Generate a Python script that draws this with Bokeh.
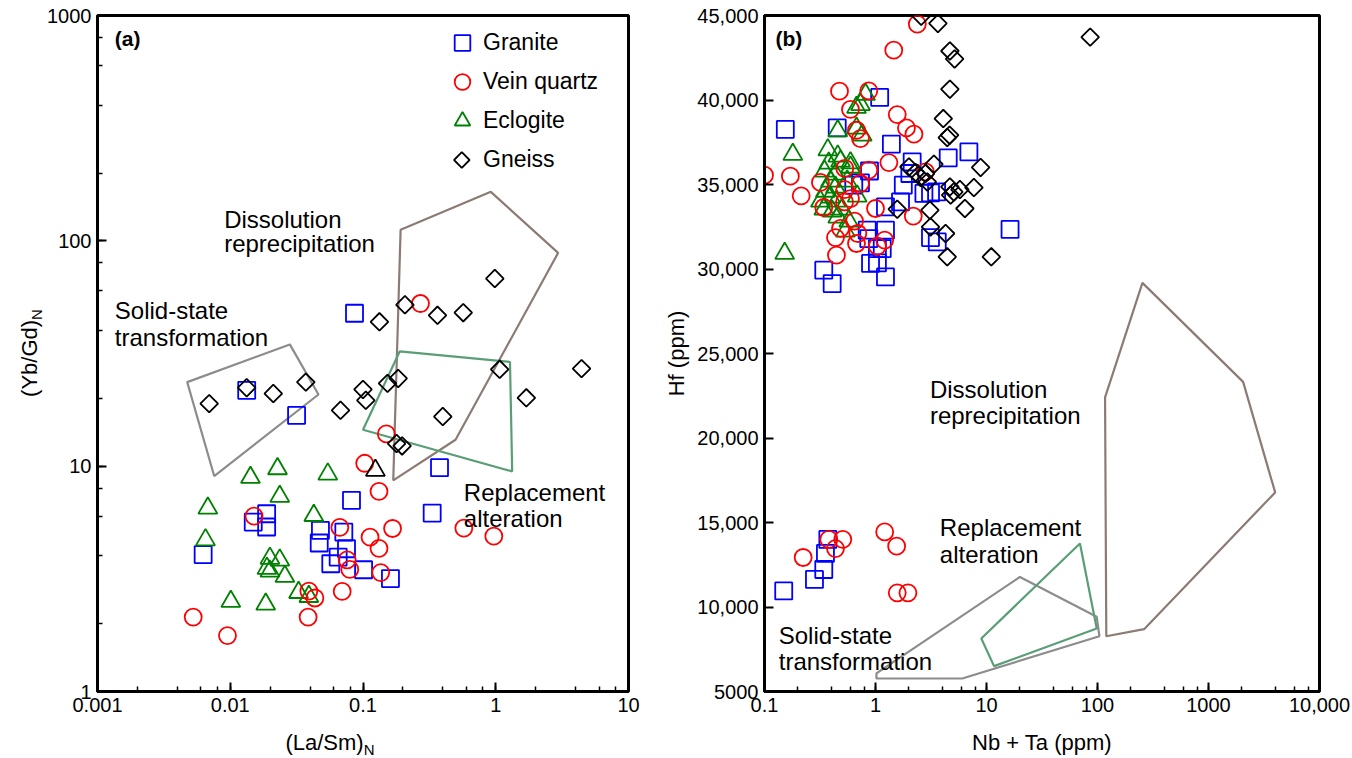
import numpy as np
from bokeh.plotting import figure
from bokeh.models import (Range1d, LogTicker, FixedTicker, CustomJSTickFormatter,
                          Label, Legend, LegendItem, LinearScale, Div)
from bokeh.layouts import row, column
from bokeh.embed import file_html
from bokeh.resources import INLINE

FONT = "Liberation Sans"

# ---------------- Panel (a) data: (La/Sm)N vs (Yb/Gd)N ----------------
granite_a_x = [0.0863, 0.0133, 0.0316, 0.377, 0.332, 0.0819, 0.0188, 0.0149, 0.0188,
               0.00625, 0.0478, 0.0468, 0.0717, 0.0650, 0.0751, 0.0572, 0.101, 0.161]
granite_a_y = [47.7, 21.7, 16.8, 9.85, 6.19, 7.05, 6.15, 5.65, 5.37,
               4.05, 5.19, 4.56, 5.10, 3.95, 4.30, 3.69, 3.47, 3.17]

vein_a_x = [0.271, 0.150, 0.103, 0.132, 0.0151, 0.0669, 0.167, 0.113, 0.132, 0.0760,
            0.0795, 0.136, 0.0391, 0.0434, 0.0697, 0.00526, 0.00953, 0.0386, 0.575, 0.967]
vein_a_y = [52.7, 13.9, 10.3, 7.73, 6.0, 5.35, 5.29, 4.84, 4.32, 3.84,
            3.48, 3.37, 2.79, 2.60, 2.78, 2.14, 1.77, 2.14, 5.31, 4.89]

eclogite_a_x = [0.0142, 0.0227, 0.0543, 0.0236, 0.00678, 0.0426, 0.00651, 0.0199,
                0.0236, 0.0199, 0.0189, 0.0258, 0.0327, 0.0391, 0.0101, 0.0185]
eclogite_a_y = [8.91, 9.74, 9.22, 7.34, 6.51, 6.04, 4.71, 3.90,
                3.83, 3.42, 3.52, 3.24, 2.75, 2.64, 2.51, 2.44]

gneiss_a_x = [0.00694, 0.0133, 0.0211, 0.0371, 0.0677, 0.100, 0.105, 0.133, 0.207, 0.153,
              0.184, 0.179, 0.197, 0.364, 0.569, 0.984, 1.07, 4.43, 1.70, 0.399]
gneiss_a_y = [18.95, 22.3, 21.0, 23.6, 17.7, 21.9, 19.6, 43.7, 52.0, 23.3,
              24.5, 12.6, 12.3, 46.7, 48.0, 68.0, 26.9, 27.1, 20.1, 16.6]

other_a_x = [0.124]
other_a_y = [9.58]

solid_a_x = [0.00474, 0.0281, 0.0462, 0.00757]
solid_a_y = [23.6, 34.7, 20.8, 9.04]
dissol_a_x = [0.192, 0.918, 2.95, 0.498, 0.169]
dissol_a_y = [112, 165, 88.4, 13.1, 8.65]
replace_a_x = [0.189, 1.28, 1.33, 0.100]
replace_a_y = [32.3, 29.0, 9.48, 14.5]

# ---------------- Panel (b) data: Nb+Ta vs Hf ----------------
granite_b_x = [0.154, 0.452, 1.09, 1.39, 6.94, 4.52, 2.14, 2.04, 0.883, 0.732, 0.637, 1.78,
               3.13, 3.55, 2.73, 1.68, 1.23, 0.842, 1.23, 0.870, 1.04, 1.15, 0.902, 1.04,
               1.23, 0.342, 0.407, 3.13, 3.60, 16.3, 0.149, 0.282, 0.342, 0.354, 0.372]
granite_b_y = [38260, 38350, 40150, 37390, 36930, 36570, 36340, 35650, 35800, 35100, 34960, 34960,
               34500, 34560, 34470, 33970, 33680, 32300, 32300, 31800, 31210, 31210, 30330, 30360,
               29530, 29930, 29140, 31860, 31600, 32340, 10950, 11630, 12220, 13170, 14000]

vein_b_x = [2.38, 1.46, 0.474, 0.870, 0.595, 1.57, 1.90, 2.22, 0.674, 0.732, 1.32, 0.100,
            0.171, 0.214, 0.319, 0.529, 0.870, 2.82, 0.529, 0.732, 0.595, 0.526, 0.342, 1.00,
            2.19, 0.647, 0.484, 0.436, 0.693, 0.674, 1.04, 1.21, 0.445,
            0.223, 0.379, 0.436, 0.507, 1.21, 1.55, 1.57, 1.96]
vein_b_y = [44490, 42950, 40520, 40540, 39440, 39140, 38350, 37980, 38210, 37720, 36300, 35550,
            35490, 34330, 35120, 35950, 35850, 35750, 34700, 35060, 34170, 33970, 33640, 33580,
            33130, 32830, 32400, 31860, 32100, 31510, 31350, 31710, 30820,
            12930, 14000, 13460, 14000, 14440, 13600, 10840, 10840]

eclogite_b_x = [0.180, 0.152, 0.813, 0.732, 0.674, 0.457, 0.674, 0.759, 0.372, 0.457,
                0.595, 0.379, 0.484, 0.347, 0.436, 0.595, 0.393, 0.354, 0.436, 0.556,
                0.393, 0.319, 0.445, 0.342, 0.407, 0.501, 0.457, 0.574, 0.536, 0.684]
eclogite_b_y = [36780, 30920, 40330, 39730, 39560, 38170, 38330, 37920, 37050, 36680,
                36280, 36260, 36380, 35790, 35610, 36020, 35200, 34600, 34840, 35200,
                34250, 34010, 34010, 33540, 33420, 33540, 33070, 32830, 32240, 34310]

gneiss_b_x = [2.58, 3.65, 4.68, 5.16, 4.68, 4.08, 4.65, 4.43, 8.85, 3.36, 2.00, 2.29, 2.55, 2.82,
              2.93, 4.68, 5.08, 5.76, 4.75, 7.70, 1.57, 3.09, 6.39, 3.13, 4.28, 4.43, 11.05, 85.9]
gneiss_b_y = [44960, 44530, 42900, 42430, 40640, 38900, 37920, 37780, 36010, 36200, 36040, 35710,
              35420, 35650, 35150, 34860, 34560, 34700, 34370, 34820, 33540, 33480, 33580, 32490,
              32100, 30720, 30720, 43720]

solid_b_x = [1.02, 20.0, 98.4, 104, 6.05, 1.02]
solid_b_y = [6070, 11780, 9420, 8270, 5770, 5770]
replace_b_x = [8.98, 69.5, 98.4, 11.7]
replace_b_y = [8140, 13760, 8730, 6500]
dissol_b_x = [254, 2051, 3987, 263, 120, 117]
dissol_b_y = [29180, 23320, 16780, 8690, 8270, 22400]

y_ticks_b = [5000, 10000, 15000, 20000, 25000, 30000, 35000, 40000, 45000]
legend_labels = ["Granite", "Vein quartz", "Eclogite", "Gneiss"]

BLUE, RED, GREEN, BLACK = "#0000ff", "#ff0000", "#008000", "#000000"
C_SOLID, C_DISSOL, C_REPL = "#8c8c8c", "#8c7b74", "#5a9e77"
MS = 17
LW = 1.8

fmt_log = CustomJSTickFormatter(code="""
    if (tick >= 10000) { return String(Math.round(tick)).replace(/\\B(?=(\\d{3})+(?!\\d))/g, ","); }
    return String(parseFloat(tick.toPrecision(6)));
""")
fmt_lin = CustomJSTickFormatter(code="""
    if (tick < 10000) { return String(tick); }
    return String(Math.round(tick)).replace(/\\B(?=(\\d{3})+(?!\\d))/g, ",");
""")


def style(p):
    p.xgrid.visible = False
    p.ygrid.visible = False
    p.outline_line_color = "black"
    p.outline_line_width = 3
    p.outline_line_alpha = 1
    p.background_fill_color = "white"
    p.border_fill_color = "white"
    for ax in (p.xaxis[0], p.yaxis[0]):
        ax.axis_line_width = 3
        ax.axis_line_color = "black"
        ax.major_tick_in = 9
        ax.major_tick_out = 0
        ax.major_tick_line_width = 2
        ax.minor_tick_in = 5
        ax.minor_tick_out = 0
        ax.minor_tick_line_width = 1.5
        ax.major_label_text_font = FONT
        ax.major_label_text_font_size = "20px"
        ax.major_label_text_color = "black"
        ax.axis_label_text_font = FONT
        ax.axis_label_text_font_size = "22px"
        ax.axis_label_text_font_style = "normal"
        ax.axis_label_text_color = "black"
        ax.major_label_standoff = 6
    p.xaxis[0].axis_label_standoff = 15


def lab(p, x, y, text, size="24px", style_="normal", angle=0.0):
    p.add_layout(Label(x=x, y=y, text=text, text_font=FONT, text_font_size=size,
                       text_font_style=style_, text_color="black", angle=angle,
                       text_baseline="alphabetic", text_align="left"))


# ---------------- Panel (a) ----------------
pa = figure(width=616, height=730, x_axis_type="log", y_axis_type="log",
            x_range=Range1d(0.001, 10), y_range=Range1d(1, 1000),
            output_backend="svg", toolbar_location=None,
            min_border_left=52, min_border_right=32, min_border_top=15, min_border_bottom=39)
style(pa)
pa.xaxis[0].ticker = LogTicker(desired_num_ticks=5)
pa.yaxis[0].ticker = LogTicker(desired_num_ticks=4)
pa.xaxis[0].formatter = fmt_log
pa.yaxis[0].formatter = fmt_log

# pixel-space helper ranges (frame pixels) for the legend's diamond symbol
pa.extra_x_ranges = {"px": Range1d(0, 532)}
pa.extra_y_ranges = {"px": Range1d(0, 676)}
pa.extra_x_scales = {"px": LinearScale()}
pa.extra_y_scales = {"px": LinearScale()}

pa.patch(solid_a_x, solid_a_y, fill_color=None, line_color=C_SOLID, line_width=2.2)
pa.patch(dissol_a_x, dissol_a_y, fill_color=None, line_color=C_DISSOL, line_width=2.2)
pa.patch(replace_a_x, replace_a_y, fill_color=None, line_color=C_REPL, line_width=2.2)

ra_g = pa.scatter(granite_a_x, granite_a_y, marker="square", size=MS, fill_color=None,
                  line_color=BLUE, line_width=LW)
ra_e = pa.scatter(eclogite_a_x, eclogite_a_y, marker="triangle", size=MS + 2, fill_color=None,
                  line_color=GREEN, line_width=LW)
ra_v = pa.scatter(vein_a_x, vein_a_y, marker="circle", size=MS, fill_color=None,
                  line_color=RED, line_width=LW)
ra_o = pa.scatter(other_a_x, other_a_y, marker="triangle", size=MS + 2, fill_color=None,
                  line_color=BLACK, line_width=LW)
ra_n = pa.scatter(gneiss_a_x, gneiss_a_y, marker="square", angle=np.pi / 4, size=12.5,
                  fill_color=None, line_color=BLACK, line_width=LW)
# invisible stand-in so the legend row keeps its place; the diamond is drawn below
ghost = pa.scatter([], [], marker="square", size=1, fill_alpha=0, line_alpha=0)

LEG_X, LEG_Y, ROW_H, GLYPH_W = 344, 512, 39, 42
leg = Legend(items=[LegendItem(label=legend_labels[0], renderers=[ra_g]),
                    LegendItem(label=legend_labels[1], renderers=[ra_v]),
                    LegendItem(label=legend_labels[2], renderers=[ra_e]),
                    LegendItem(label=legend_labels[3], renderers=[ghost])],
             location=(LEG_X, LEG_Y))
leg.glyph_width = GLYPH_W
leg.glyph_height = ROW_H
leg.spacing = 0
leg.padding = 0
leg.margin = 0
leg.label_standoff = 0
leg.label_text_font = FONT
leg.label_text_font_size = "23px"
leg.label_text_color = "black"
leg.border_line_color = None
leg.background_fill_alpha = 0
pa.add_layout(leg)
pa.scatter([LEG_X + GLYPH_W / 2], [LEG_Y + ROW_H / 2], x_range_name="px", y_range_name="px",
           marker="square", angle=np.pi / 4, size=11, fill_color=None,
           line_color=BLACK, line_width=LW)

lab(pa, 0.00135, 790, "(a)", size="21px", style_="bold")
lab(pa, 0.009, 124, "Dissolution")
lab(pa, 0.009, 97, "reprecipitation")
lab(pa, 0.00135, 49.2, "Solid-state")
lab(pa, 0.00135, 37.4, "transformation")
lab(pa, 0.575, 7.67, "Replacement")
lab(pa, 0.575, 5.85, "alteration")

# axis titles of panel (a) with subscript N, as HTML text
TXT = "font-family:'Liberation Sans',Arial,sans-serif; font-size:22px; color:#000; white-space:nowrap;"
SUB = "font-size:15px; vertical-align:-5px; line-height:0;"
ya_div = Div(width=44, height=730, margin=0,
             text=("<div style=\"position:relative; width:44px; height:730px;\">"
                   "<div style=\"position:absolute; left:30px; top:353px; line-height:22px; "
                   "transform:translate(-50%,-50%) rotate(-90deg); " + TXT + "\">"
                   "(Yb/Gd)<span style=\"" + SUB + "\">N</span></div></div>"))
xa_div = Div(width=660, height=28, margin=0,
             text=("<div style=\"width:660px; height:28px; text-align:center; line-height:22px; "
                   "padding-top:2px; " + TXT + "\">"
                   "(La/Sm)<span style=\"" + SUB + "\">N</span></div>"))

# ---------------- Panel (b) ----------------
pb = figure(width=692, height=758, x_axis_type="log",
            x_range=Range1d(0.1, 10000), y_range=Range1d(5000, 45000),
            output_backend="svg", toolbar_location=None,
            min_border_left=104, min_border_right=33, min_border_top=15, min_border_bottom=67)
style(pb)
pb.xaxis[0].ticker = LogTicker(desired_num_ticks=6)
pb.yaxis[0].ticker = FixedTicker(ticks=y_ticks_b, minor_ticks=[])
pb.xaxis[0].formatter = fmt_log
pb.yaxis[0].formatter = fmt_lin
pb.xaxis[0].axis_label = "Nb + Ta (ppm)"
pb.yaxis[0].axis_label = "Hf (ppm)"

pb.patch(solid_b_x, solid_b_y, fill_color=None, line_color=C_SOLID, line_width=2.2)
pb.patch(dissol_b_x, dissol_b_y, fill_color=None, line_color=C_DISSOL, line_width=2.2)
pb.patch(replace_b_x, replace_b_y, fill_color=None, line_color=C_REPL, line_width=2.2)

pb.scatter(granite_b_x, granite_b_y, marker="square", size=MS, fill_color=None,
           line_color=BLUE, line_width=LW)
pb.scatter(eclogite_b_x, eclogite_b_y, marker="triangle", size=MS + 2, fill_color=None,
           line_color=GREEN, line_width=LW)
pb.scatter(vein_b_x, vein_b_y, marker="circle", size=MS, fill_color=None,
           line_color=RED, line_width=LW)
pb.scatter(gneiss_b_x, gneiss_b_y, marker="square", angle=np.pi / 4, size=12.5,
           fill_color=None, line_color=BLACK, line_width=LW)

lab(pb, 0.1254, 43660, "(b)", size="21px", style_="bold")
lab(pb, 3.09, 22890, "Dissolution")
lab(pb, 3.09, 21310, "reprecipitation")
lab(pb, 3.80, 14700, "Replacement")
lab(pb, 3.80, 13110, "alteration")
lab(pb, 0.1343, 8330, "Solid-state")
lab(pb, 0.1343, 6750, "transformation")

layout = row(column(row(ya_div, pa), xa_div), pb)
open("out.html", "w").write(file_html(layout, INLINE))
